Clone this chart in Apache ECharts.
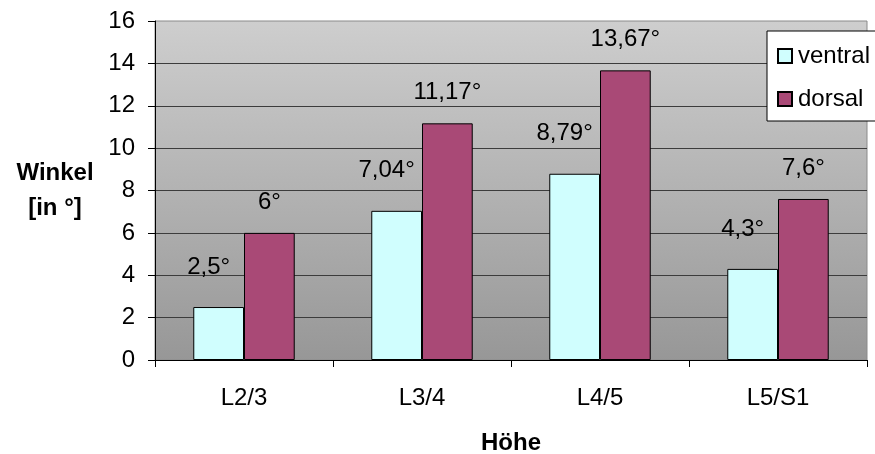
<!DOCTYPE html>
<html><head><meta charset="utf-8">
<script src="https://cdn.jsdelivr.net/npm/echarts@6/dist/echarts.min.js"></script>
<style>html,body{margin:0;padding:0;background:#fff}#c{width:875px;height:454px}</style>
</head><body><div id="c"></div>
<script>
const categories = ['L2/3', 'L3/4', 'L4/5', 'L5/S1'];
const ventral = [2.5, 7.04, 8.79, 4.3];
const dorsal = [6, 11.17, 13.67, 7.6];
const yTicks = [0, 2, 4, 6, 8, 10, 12, 14, 16];

const FONT = "'Liberation Sans', Arial, sans-serif";
const FS = 24;
const fmt = p => String(p.value).replace('.', ',') + '°';
const chart = echarts.init(document.getElementById('c'), null, {renderer: 'canvas'});
chart.setOption({
  animation: false,
  textStyle: {fontFamily: FONT},
  grid: {
    left: 155, right: 8, top: 21, bottom: 94, show: true,
    outerBoundsMode: 'none', containLabel: false,
    borderColor: '#8a8a8a', borderWidth: 1,
    backgroundColor: new echarts.graphic.LinearGradient(0, 0, 0, 1, [
      {offset: 0, color: '#cecece'}, {offset: 1, color: '#979797'}
    ])
  },
  legend: {
    orient: 'vertical', left: 767, top: 31,
    backgroundColor: '#fff', borderColor: '#000', borderWidth: 1,
    padding: [13, 30, 10, 10], itemWidth: 14, itemHeight: 14, itemGap: 19,
    icon: 'rect',
    textStyle: {fontFamily: FONT, fontSize: FS, color: '#000', padding: [0, 0, 0, 1]},
    data: ['ventral', 'dorsal']
  },
  xAxis: {
    type: 'category', data: categories,
    name: 'Höhe', nameLocation: 'middle', nameGap: 71,
    nameTextStyle: {fontFamily: FONT, fontSize: FS, fontWeight: 'bold', color: '#000'},
    axisLine: {lineStyle: {color: '#000', width: 1}},
    axisTick: {show: true, length: 7, lineStyle: {color: '#000'}},
    axisLabel: {fontFamily: FONT, fontSize: FS, color: '#000', margin: 26}
  },
  yAxis: {
    type: 'value', min: yTicks[0], max: yTicks[yTicks.length - 1], interval: 2,
    name: 'Winkel\n[in °]', nameLocation: 'middle', nameGap: 100, nameRotate: 0,
    nameTextStyle: {fontFamily: FONT, fontSize: FS, fontWeight: 'bold', color: '#000', align: 'center', verticalAlign: 'middle', lineHeight: 35},
    axisLine: {show: true, lineStyle: {color: '#000', width: 1}},
    axisTick: {show: true, length: 7, lineStyle: {color: '#000'}},
    axisLabel: {fontFamily: FONT, fontSize: FS, color: '#000', margin: 20},
    splitLine: {show: true, showMaxLine: false, lineStyle: {color: '#3c3c3c', width: 1}}
  },
  series: [
    {
      name: 'ventral', type: 'bar', data: ventral, barWidth: '28.5%', barGap: '0%',
      itemStyle: {color: '#d0fefe', borderColor: '#000', borderWidth: 1},
      label: {show: true, position: 'top', distance: 28, offset: [-10, 0], formatter: fmt,
        fontFamily: FONT, fontSize: FS, color: '#000'}
    },
    {
      name: 'dorsal', type: 'bar', data: dorsal, barWidth: '28.5%',
      itemStyle: {color: '#a94976', borderColor: '#000', borderWidth: 1},
      label: {show: true, position: 'top', distance: 19, formatter: fmt,
        fontFamily: FONT, fontSize: FS, color: '#000'}
    }
  ]
});
</script></body></html>
